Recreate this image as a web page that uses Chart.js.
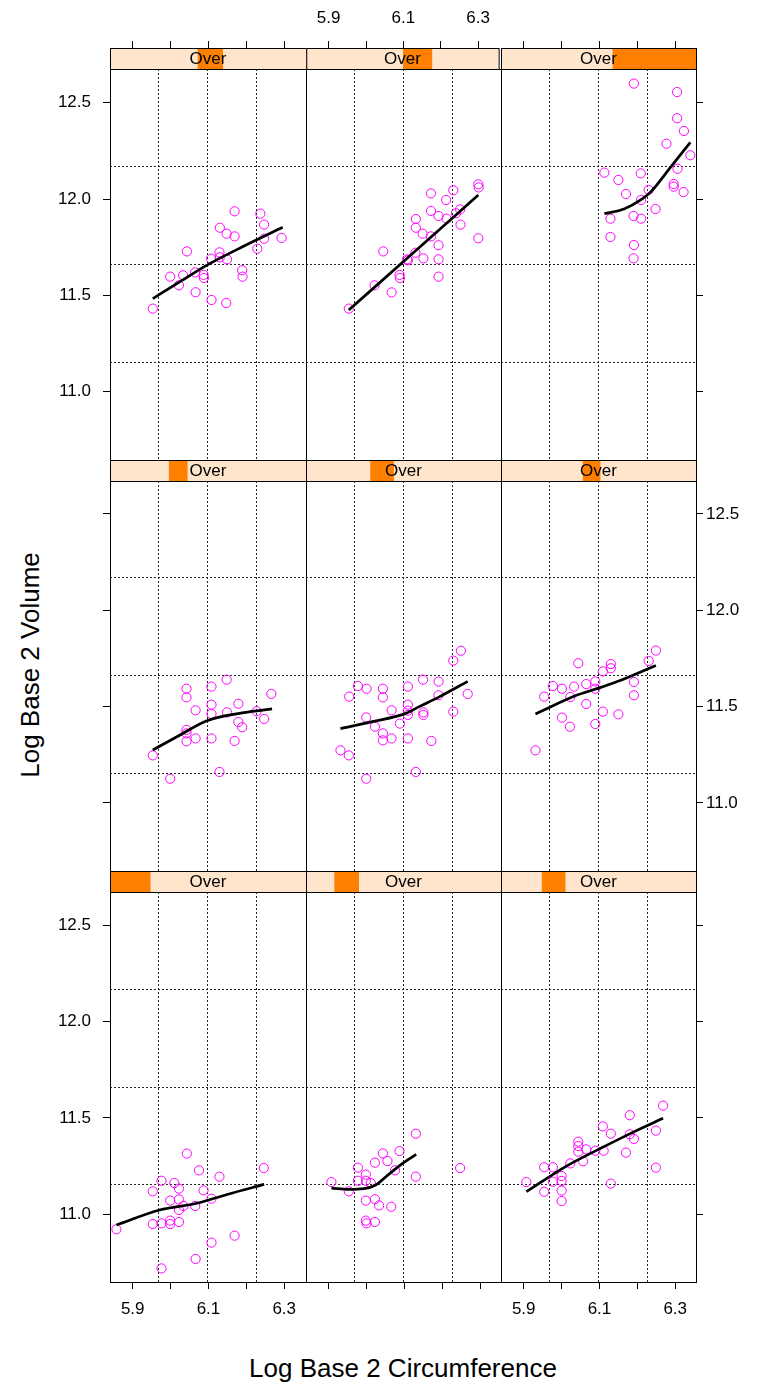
<!DOCTYPE html>
<html><head><meta charset="utf-8">
<script src="https://cdn.jsdelivr.net/npm/chart.js@4.4.0/dist/chart.umd.min.js"></script>
<style>
html,body{margin:0;padding:0;background:#fff;}
body{width:757px;height:1388px;position:relative;overflow:hidden;font-family:"Liberation Sans",Arial,Helvetica,sans-serif;}
canvas{position:absolute;}
.title{position:absolute;font-size:26px;color:#000;white-space:nowrap;line-height:1;}
#ytitle{left:30px;top:665px;transform:translate(-50%,-50%) rotate(-90deg);}
#xtitle{left:403px;top:1368px;transform:translate(-50%,-50%);}
</style></head><body>
<div id="ytitle" class="title">Log Base 2 Volume</div>
<div id="xtitle" class="title">Log Base 2 Circumference</div>
<script>
// ---------- data (panels in lattice order: 1 = bottom-left ... 9 = top-right) ----------
const stripLabel = 'Over';
const xTicks = [5.9, 6.0, 6.1, 6.2, 6.3];
const xTickLabels = ['5.9', '', '6.1', '', '6.3'];
const yTicks = [11.0, 11.5, 12.0, 12.5];
const yTickLabels = ['11.0', '11.5', '12.0', '12.5'];
const xGrid = [5.969, 6.098, 6.227];
const yGrid = [11.152, 11.660, 12.168];
const shingleLo = [0.005, 0.147, 0.211, 0.302, 0.331, 0.421, 0.449, 0.505, 0.574];
const shingleHi = [0.205, 0.270, 0.329, 0.394, 0.449, 0.508, 0.575, 0.653, 1.000];

const circ1 = [5.857,5.953,5.953,5.976,5.976,5.976,5.999,5.999,5.999,6.010,6.022,6.022,6.022,6.022,6.034,6.043,6.065,6.066,6.075,6.087,6.108,6.108,6.129,6.169,6.246];
const vol1  = [10.922,11.119,10.949,11.174,10.953,10.719,11.071,10.967,10.949,11.162,11.133,11.077,11.022,10.960,11.043,11.315,11.043,10.768,11.228,11.124,11.081,10.853,11.195,10.889,11.240];
const fitCirc1 = [5.857,5.971,6.069,6.149,6.247];
const fitVol1  = [10.944,11.022,11.057,11.103,11.155];

const circ2 = [5.907,5.953,5.977,5.977,5.998,5.998,5.998,5.998,6.000,6.011,6.022,6.022,6.022,6.033,6.043,6.055,6.065,6.075,6.087,6.130,6.130,6.247];
const vol2  = [11.167,11.119,11.242,11.174,11.206,11.174,11.071,10.967,10.953,11.162,11.268,11.078,10.960,11.046,11.316,11.276,11.039,11.228,11.328,11.418,11.195,11.240];
const fitCirc2 = [5.907,5.953,5.993,6.024,6.051,6.095,6.131];
const fitVol2  = [11.136,11.129,11.133,11.152,11.195,11.264,11.311];

const circ3 = [5.907,5.954,5.954,5.977,5.977,6.000,6.000,6.000,6.000,6.023,6.044,6.044,6.044,6.057,6.065,6.089,6.109,6.111,6.130,6.130,6.170,6.180,6.180,6.191,6.249,6.249,6.268];
const vol3  = [11.167,11.244,11.117,11.244,11.169,11.199,11.173,11.123,11.069,11.264,11.377,11.354,11.325,11.275,11.337,11.330,11.456,11.330,11.418,11.159,11.320,11.514,11.415,11.391,11.434,11.242,11.564];
const fitCirc3 = [5.907,6.014,6.103,6.192,6.268];
const fitVol3  = [11.117,11.251,11.342,11.429,11.498];

const circ4 = [5.953,5.999,6.042,6.042,6.066,6.042,6.042,6.042,6.066,6.108,6.108,6.108,6.108,6.129,6.148,6.149,6.179,6.179,6.189,6.169,6.227,6.247,6.266];
const vol4  = [11.247,11.126,11.593,11.548,11.481,11.379,11.361,11.320,11.335,11.604,11.510,11.462,11.335,11.161,11.640,11.470,11.515,11.420,11.393,11.322,11.476,11.436,11.566];
const fitCirc4 = [5.953,6.025,6.096,6.194,6.268];
const fitVol4  = [11.275,11.353,11.427,11.469,11.488];

const circ5 = [5.931,5.953,5.954,5.977,6.000,5.999,5.999,6.022,6.043,6.043,6.043,6.043,6.066,6.066,6.088,6.109,6.109,6.109,6.109,6.109,6.130,6.149,6.150,6.150,6.171,6.190,6.190,6.229,6.249,6.229,6.267];
const vol5  = [11.273,11.247,11.552,11.607,11.593,11.444,11.126,11.396,11.593,11.548,11.361,11.325,11.481,11.335,11.412,11.604,11.510,11.479,11.457,11.335,11.161,11.640,11.470,11.457,11.322,11.630,11.559,11.739,11.790,11.474,11.566];
const fitCirc5 = [5.931,6.015,6.104,6.139,6.193,6.267];
const fitVol5  = [11.386,11.422,11.465,11.500,11.552,11.631];

const circ6 = [5.931,5.954,5.977,6.001,6.001,6.022,6.023,6.033,6.044,6.065,6.065,6.089,6.089,6.089,6.109,6.109,6.130,6.130,6.150,6.191,6.191,6.230,6.249];
const vol6  = [11.273,11.552,11.607,11.593,11.443,11.396,11.550,11.604,11.725,11.617,11.514,11.631,11.593,11.410,11.683,11.474,11.721,11.699,11.460,11.628,11.559,11.737,11.791];
const fitCirc6 = [5.931,6.041,6.103,6.147,6.249];
const fitVol6  = [11.462,11.560,11.600,11.630,11.714];

const circ7 = [5.953,5.999,6.033,6.022,6.043,6.066,6.065,6.087,6.088,6.107,6.108,6.129,6.130,6.130,6.149,6.148,6.147,6.169,6.169,6.189,6.190,6.229,6.237,6.247,6.247,6.293];
const vol7  = [11.431,11.597,11.604,11.552,11.728,11.516,11.619,11.606,11.590,11.690,11.476,11.723,11.697,11.851,11.687,11.820,11.460,11.936,11.806,11.630,11.597,11.742,11.924,11.867,11.794,11.798];
const fitCirc7 = [5.953,6.025,6.096,6.194,6.296];
const fitVol7  = [11.483,11.571,11.657,11.756,11.853];

const circ8 = [5.953,6.021,6.044,6.066,6.087,6.088,6.107,6.109,6.129,6.150,6.130,6.130,6.148,6.170,6.170,6.170,6.190,6.190,6.190,6.190,6.210,6.211,6.229,6.236,6.247,6.248,6.295,6.296,6.295];
const vol8  = [11.431,11.552,11.728,11.515,11.606,11.590,11.687,11.682,11.721,11.692,11.896,11.851,11.820,12.029,11.938,11.806,11.912,11.760,11.687,11.597,11.995,11.898,12.045,11.926,11.946,11.867,12.076,12.060,11.796];
const fitCirc8 = [5.953,6.122,6.295];
const fitVol8  = [11.424,11.718,12.021];

const circ9 = [6.191,6.305,6.305,6.323,6.277,6.340,6.113,6.209,6.150,6.306,6.230,6.170,6.296,6.296,6.322,6.210,6.248,6.129,6.190,6.210,6.129,6.191,6.190];
const vol9  = [12.599,12.555,12.419,12.353,12.287,12.227,12.137,12.133,12.099,12.157,12.047,12.026,12.078,12.064,12.036,11.995,11.948,11.898,11.912,11.898,11.803,11.761,11.692];
const fitCirc9 = [6.113,6.165,6.209,6.236,6.289,6.340];
const fitVol9  = [11.924,11.948,11.995,12.038,12.168,12.294];

const circAll = [circ1,circ2,circ3,circ4,circ5,circ6,circ7,circ8,circ9];
const volAll  = [vol1,vol2,vol3,vol4,vol5,vol6,vol7,vol8,vol9];
const fitCircAll = [fitCirc1,fitCirc2,fitCirc3,fitCirc4,fitCirc5,fitCirc6,fitCirc7,fitCirc8,fitCirc9];
const fitVolAll  = [fitVol1,fitVol2,fitVol3,fitVol4,fitVol5,fitVol6,fitVol7,fitVol8,fitVol9];

// ---------- layout ----------
const FONT = '"Liberation Sans", Arial, Helvetica, sans-serif';
const colLeft = [110, 306, 501], colW = [196, 195, 195];
const stripTop = [48, 460, 871], stripH = 21;
const panelTop = [69, 481, 892], panelBot = [460, 871, 1282];
const pxPerX = 378.7, xAtLeft = 5.840;
const pxPerY = 192.67, y12px = [199, 610.3, 1021.6];
const TL = 7;
const tickFont = {family: FONT, size: 17};
const PEACH = '#ffe5cc', ORANGE = '#ff7f00';

Chart.defaults.color = '#000';
Chart.defaults.font.family = FONT;

function makeCanvas(left, top, w, h) {
  const c = document.createElement('canvas');
  c.width = w; c.height = h;
  c.style.left = left + 'px'; c.style.top = top + 'px';
  c.style.width = w + 'px'; c.style.height = h + 'px';
  document.body.appendChild(c);
  return c;
}
const setTicks = vals => s => { s.ticks = vals.map(v => ({value: v})); };
const xLab = v => { const i = xTicks.findIndex(t => Math.abs(t - v) < 1e-9); return i < 0 ? '' : xTickLabels[i]; };
const yLab = v => { const i = yTicks.findIndex(t => Math.abs(t - v) < 1e-9); return i < 0 ? '' : yTickLabels[i]; };
const xRange = c => [xAtLeft, xAtLeft + colW[c] / pxPerX];
const yRange = r => [12 - (panelBot[r] - y12px[r]) / pxPerY, 12 + (y12px[r] - panelTop[r]) / pxPerY];

function makeStrip(k) {
  const r = 2 - Math.floor((k - 1) / 3), c = (k - 1) % 3;
  const top = r === 0 ? 0 : stripTop[r];
  const axisH = stripTop[r] - top;
  const cv = makeCanvas(colLeft[c] - 1, top, colW[c] + 2, axisH + stripH + 1);
  const [xmin, xmax] = xRange(c);
  const scales = {
    xs: {type: 'linear', display: false, min: 0, max: 1},
    ys: {type: 'category', display: false}
  };
  if (r === 0) {
    scales.xt = {
      type: 'linear', position: 'top', min: xmin, max: xmax,
      afterBuildTicks: setTicks(xTicks), afterFit: s => { s.height = axisH; },
      ticks: {display: c === 1, autoSkip: false, maxRotation: 0, font: tickFont, color: '#000', padding: 12, callback: v => xLab(v)},
      grid: {drawOnChartArea: false, drawTicks: true, tickLength: TL, color: '#000', lineWidth: 1},
      border: {display: false}
    };
  }
  new Chart(cv, {
    type: 'bar',
    data: {labels: [stripLabel], datasets: [{
      data: [[shingleLo[k - 1], shingleHi[k - 1]]], xAxisID: 'xs', yAxisID: 'ys',
      backgroundColor: ORANGE, borderWidth: 0, barPercentage: 1, categoryPercentage: 1
    }]},
    options: {
      indexAxis: 'y', responsive: false, animation: false, devicePixelRatio: 1, events: [],
      layout: {padding: {left: 1, right: 1, top: 0, bottom: 1}, autoPadding: false},
      plugins: {legend: {display: false}, tooltip: {enabled: false}},
      scales
    },
    plugins: [{
      id: 'stripdeco',
      beforeDatasetsDraw(ch) {
        const a = ch.chartArea, ctx = ch.ctx;
        ctx.save(); ctx.fillStyle = PEACH; ctx.fillRect(a.left, a.top, a.width, a.height); ctx.restore();
      },
      afterDatasetsDraw(ch) {
        const a = ch.chartArea, ctx = ch.ctx;
        ctx.save();
        ctx.fillStyle = '#000'; ctx.font = '17px ' + FONT;
        ctx.textAlign = 'center'; ctx.textBaseline = 'middle';
        ctx.fillText(ch.data.labels[0], a.left + a.width / 2, a.top + a.height / 2 + 1);
        ctx.strokeStyle = '#000'; ctx.lineWidth = 1;
        ctx.strokeRect(a.left + 0.5, a.top + 0.5, a.width, a.height);
        ctx.restore();
      }
    }]
  });
}

function makePanel(k) {
  const r = 2 - Math.floor((k - 1) / 3), c = (k - 1) % 3;
  const ML = c === 0 ? 70 : 2, MR = c === 2 ? 61 : 2, MT = 30, MB = r === 2 ? 50 : 30;
  const pw = colW[c], ph = panelBot[r] - panelTop[r];
  const cv = makeCanvas(colLeft[c] - ML, panelTop[r] - MT, pw + ML + MR, ph + MT + MB);
  const [xmin, xmax] = xRange(c), [ymin, ymax] = yRange(r);
  const xs = circAll[k - 1], ys = volAll[k - 1];
  const fx = fitCircAll[k - 1], fy = fitVolAll[k - 1];
  const gridScale = (pos, vals, min, max, horiz) => ({
    type: 'linear', position: pos, min, max,
    afterBuildTicks: setTicks(vals),
    afterFit: s => { if (horiz) s.height = 0; else s.width = 0; },
    ticks: {display: false},
    grid: {drawOnChartArea: true, drawTicks: false, color: '#222', lineWidth: 1},
    border: {display: false, dash: [2, 2]}
  });
  new Chart(cv, {
    type: 'scatter',
    data: {datasets: [
      {type: 'line', data: fx.map((x, i) => ({x, y: fy[i]})), xAxisID: 'x', yAxisID: 'y',
       borderColor: '#000', borderWidth: 2.7, pointRadius: 0, fill: false, cubicInterpolationMode: 'monotone'},
      {type: 'scatter', data: xs.map((x, i) => ({x, y: ys[i]})), xAxisID: 'x', yAxisID: 'y',
       pointStyle: 'circle', pointRadius: 4.6, borderColor: '#ff00ff', backgroundColor: 'rgba(0,0,0,0)', borderWidth: 1}
    ]},
    options: {
      responsive: false, animation: false, devicePixelRatio: 1, events: [],
      layout: {padding: 0, autoPadding: false},
      plugins: {legend: {display: false}, tooltip: {enabled: false}},
      scales: {
        x: {type: 'linear', position: 'bottom', min: xmin, max: xmax,
          afterBuildTicks: setTicks(xTicks), afterFit: s => { s.height = MB; },
          ticks: {display: r === 2 && c !== 1, autoSkip: false, maxRotation: 0, font: tickFont, color: '#000', padding: 10, callback: v => xLab(v)},
          grid: {drawOnChartArea: false, drawTicks: r === 2, tickLength: TL, color: '#000', lineWidth: 1},
          border: {display: true, color: '#000', width: 1}},
        xt: {type: 'linear', position: 'top', min: xmin, max: xmax,
          afterFit: s => { s.height = MT; },
          ticks: {display: false},
          grid: {drawOnChartArea: false, drawTicks: false},
          border: {display: true, color: '#000', width: 1}},
        y: {type: 'linear', position: 'left', min: ymin, max: ymax,
          afterBuildTicks: setTicks(yTicks), afterFit: s => { s.width = ML; },
          ticks: {display: c === 0 && r !== 1, autoSkip: false, font: tickFont, color: '#000', padding: 12, callback: v => yLab(v)},
          grid: {drawOnChartArea: false, drawTicks: c === 0, tickLength: TL, color: '#000', lineWidth: 1},
          border: {display: true, color: '#000', width: 1}},
        yr: {type: 'linear', position: 'right', min: ymin, max: ymax,
          afterBuildTicks: setTicks(yTicks), afterFit: s => { s.width = MR; },
          ticks: {display: c === 2 && r === 1, autoSkip: false, font: tickFont, color: '#000', padding: 3, callback: v => yLab(v)},
          grid: {drawOnChartArea: false, drawTicks: c === 2, tickLength: TL, color: '#000', lineWidth: 1},
          border: {display: true, color: '#000', width: 1}},
        xg: gridScale('bottom', xGrid, xmin, xmax, true),
        yg: gridScale('left', yGrid, ymin, ymax, false)
      }
    }
  });
}

for (let k = 1; k <= 9; k++) makeStrip(k);
for (let k = 1; k <= 9; k++) makePanel(k);
</script>
</body></html>
